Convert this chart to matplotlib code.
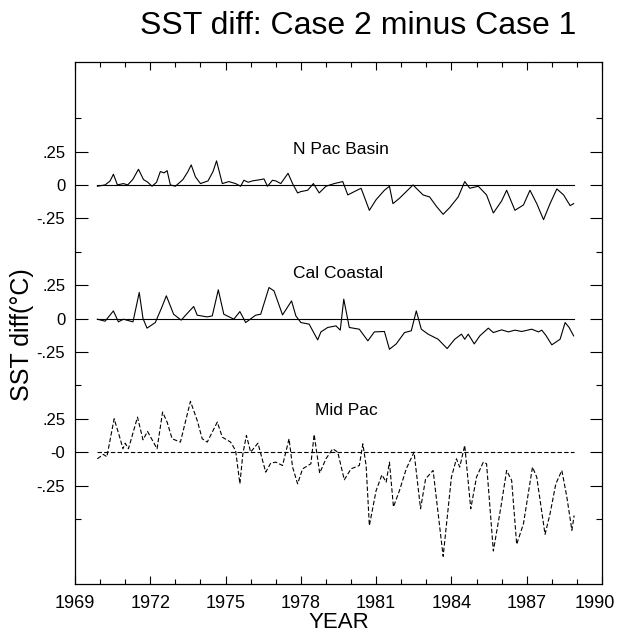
import numpy as np
import matplotlib
matplotlib.use("Agg")
import matplotlib.pyplot as plt
import matplotlib.transforms as mtransforms

plt.rcParams['font.family'] = ['Liberation Sans', 'DejaVu Sans']

# N Pac Basin (year, deg C)
npac_t = [1969.89, 1970.2, 1970.4, 1970.53, 1970.69, 1970.93, 1971.1, 1971.3, 1971.53, 1971.73,
          1971.9, 1972.07, 1972.25, 1972.4, 1972.55, 1972.67, 1972.8, 1973.0, 1973.3, 1973.5,
          1973.63, 1973.8, 1974.0, 1974.3, 1974.5, 1974.64, 1974.87, 1975.13, 1975.4, 1975.6,
          1975.73, 1975.9, 1976.07, 1976.4, 1976.53, 1976.67, 1976.87, 1977.0, 1977.2, 1977.49,
          1977.67, 1977.87, 1978.0, 1978.27, 1978.5, 1978.73, 1979.0, 1979.33, 1979.67, 1979.87,
          1980.13, 1980.4, 1980.73, 1981.0, 1981.33, 1981.53, 1981.67, 1981.93, 1982.2, 1982.47,
          1982.6, 1982.87, 1983.13, 1983.4, 1983.67, 1983.93, 1984.27, 1984.53, 1984.73, 1985.07,
          1985.4, 1985.67, 1986.0, 1986.2, 1986.53, 1986.87, 1987.13, 1987.4, 1987.67, 1987.93,
          1988.2, 1988.47, 1988.73, 1988.87]
npac_v = [-0.01, 0.0, 0.03, 0.08, 0.0, 0.01, 0.0, 0.04, 0.117, 0.04,
          0.02, -0.01, 0.02, 0.10, 0.09, 0.107, 0.0, -0.01, 0.04, 0.10,
          0.15, 0.06, 0.01, 0.03, 0.10, 0.18, 0.01, 0.025, 0.01, -0.01,
          0.035, 0.02, 0.03, 0.04, 0.045, -0.01, 0.035, 0.03, 0.01, 0.087,
          0.01, -0.06, -0.05, -0.04, 0.01, -0.06, -0.01, 0.01, 0.025, -0.075,
          -0.05, -0.025, -0.19, -0.11, -0.04, -0.01, -0.14, -0.10, -0.05, 0.0,
          -0.025, -0.075, -0.09, -0.16, -0.22, -0.17, -0.09, 0.025, -0.025, -0.01,
          -0.075, -0.21, -0.12, -0.04, -0.19, -0.15, -0.04, -0.14, -0.26, -0.14,
          -0.03, -0.075, -0.155, -0.14]

# Cal Coastal
cal_t = [1969.89, 1970.2, 1970.53, 1970.73, 1970.93, 1971.31, 1971.56, 1971.71, 1971.87, 1972.2,
         1972.45, 1972.64, 1972.93, 1973.23, 1973.53, 1973.73, 1973.87, 1974.27, 1974.47, 1974.71,
         1974.93, 1975.33, 1975.57, 1975.8, 1976.2, 1976.4, 1976.73, 1976.93, 1977.27, 1977.63,
         1977.8, 1978.0, 1978.33, 1978.67, 1978.8, 1979.07, 1979.4, 1979.57, 1979.71, 1979.93,
         1980.33, 1980.67, 1980.93, 1981.33, 1981.53, 1981.8, 1982.13, 1982.4, 1982.6, 1982.8,
         1983.07, 1983.47, 1983.83, 1984.13, 1984.4, 1984.53, 1984.67, 1984.91, 1985.13, 1985.47,
         1985.67, 1986.0, 1986.27, 1986.53, 1986.8, 1987.2, 1987.47, 1987.6, 1987.76, 1988.0,
         1988.33, 1988.53, 1988.69, 1988.87]
cal_v = [-0.005, -0.02, 0.057, -0.025, -0.005, -0.025, 0.195, 0.0, -0.072, -0.03,
         0.08, 0.17, 0.032, -0.012, 0.05, 0.09, 0.025, 0.012, 0.02, 0.215,
         0.032, -0.005, 0.052, -0.03, 0.025, 0.032, 0.232, 0.207, 0.027, 0.132,
         0.02, -0.03, -0.042, -0.16, -0.1, -0.067, -0.055, -0.087, 0.145, -0.067,
         -0.08, -0.167, -0.1, -0.097, -0.23, -0.19, -0.105, -0.092, 0.057, -0.08,
         -0.117, -0.155, -0.225, -0.155, -0.117, -0.155, -0.117, -0.19, -0.13, -0.072,
         -0.105, -0.085, -0.1, -0.087, -0.097, -0.08, -0.1, -0.087, -0.125, -0.197,
         -0.155, -0.03, -0.067, -0.13]

# Mid Pac
mid_t = [1969.89, 1970.13, 1970.27, 1970.56, 1970.8, 1970.91, 1971.0, 1971.13, 1971.49, 1971.71,
         1971.89, 1972.27, 1972.49, 1972.67, 1972.87, 1973.2, 1973.6, 1973.87, 1974.07, 1974.27,
         1974.67, 1974.87, 1975.2, 1975.4, 1975.57, 1975.69, 1975.83, 1976.0, 1976.29, 1976.6,
         1976.8, 1977.0, 1977.27, 1977.53, 1977.67, 1977.87, 1978.07, 1978.4, 1978.53, 1978.75,
         1979.0, 1979.27, 1979.47, 1979.73, 1980.0, 1980.33, 1980.47, 1980.6, 1980.73, 1981.0,
         1981.23, 1981.4, 1981.53, 1981.69, 1981.93, 1982.2, 1982.51, 1982.77, 1982.97, 1983.27,
         1983.67, 1984.0, 1984.2, 1984.33, 1984.53, 1984.77, 1985.0, 1985.27, 1985.4, 1985.67,
         1985.97, 1986.2, 1986.4, 1986.6, 1986.87, 1987.23, 1987.4, 1987.73, 1987.93, 1988.16,
         1988.4, 1988.6, 1988.8, 1988.89]
mid_v = [-0.05, -0.017, -0.035, 0.25, 0.1, 0.025, 0.067, 0.025, 0.262, 0.092,
         0.155, 0.025, 0.3, 0.225, 0.1, 0.075, 0.38, 0.237, 0.1, 0.075,
         0.225, 0.112, 0.075, 0.012, -0.237, -0.012, 0.125, 0.0, 0.067, -0.15,
         -0.082, -0.075, -0.1, 0.1, -0.112, -0.237, -0.125, -0.087, 0.132, -0.157,
         -0.05, 0.025, 0.0, -0.207, -0.125, -0.1, 0.062, -0.1, -0.55, -0.287,
         -0.17, -0.225, -0.075, -0.41, -0.287, -0.125, 0.0, -0.424, -0.2, -0.137,
         -0.78, -0.187, -0.05, -0.112, 0.05, -0.424, -0.187, -0.075, -0.087, -0.74,
         -0.412, -0.137, -0.212, -0.69, -0.536, -0.112, -0.187, -0.615, -0.461, -0.237,
         -0.137, -0.337, -0.585, -0.474]

names = ["N Pac Basin", "Cal Coastal", "Mid Pac"]
offsets = [0.0, -1.0, -2.0]
ytick_labels = [".25", "0", "-.25", ".25", "0", "-.25", ".25", "-0", "-.25"]

fig = plt.figure(figsize=(6.17, 6.38), dpi=100)
ax = fig.add_axes([75 / 617, 1 - 584 / 638, 527 / 617, 522 / 638])

t0, t1 = npac_t[0], npac_t[-1]
ax.plot(npac_t, np.array(npac_v) + offsets[0], color="black", lw=0.8)
ax.plot([t0, t1], [offsets[0], offsets[0]], color="black", lw=0.8)
ax.plot(cal_t, np.array(cal_v) + offsets[1], color="black", lw=0.8)
ax.plot([t0, t1], [offsets[1], offsets[1]], color="black", lw=0.8)
ax.plot(mid_t, np.array(mid_v) + offsets[2], color="black", lw=0.8, dashes=(4, 2))
ax.plot([t0, t1], [offsets[2], offsets[2]], color="black", lw=0.8, dashes=(4, 2))

ax.text(1979.6, 0.23, names[0], ha="center", va="baseline", fontsize=12.5)
ax.text(1979.5, -0.695, names[1], ha="center", va="baseline", fontsize=12.5)
ax.text(1979.8, -1.725, names[2], ha="center", va="baseline", fontsize=12.5)

ax.set_xlim(1969, 1990)
ax.set_ylim(-2.987, 0.92)

ax.set_xticks(np.arange(1969, 1991, 3))
ax.set_xticks(np.arange(1969, 1991, 1), minor=True)
ax.set_xticklabels([str(y) for y in range(1969, 1991, 3)], fontsize=13)

major_y = []
for off in offsets:
    major_y += [off + 0.25, off, off - 0.25]
ax.set_yticks(major_y)
ax.set_yticklabels(ytick_labels, fontsize=12)
ax.set_yticks([0.5, -0.5, -1.5, -2.5], minor=True)

ax.tick_params(which="both", direction="in", top=True, right=True, width=0.8)
ax.tick_params(axis="y", which="major", length=9, pad=7)
ax.tick_params(axis="y", which="minor", length=4)
ax.tick_params(axis="x", which="major", length=6, pad=8)
ax.tick_params(axis="x", which="minor", length=3.5)
for s in ax.spines.values():
    s.set_linewidth(0.9)

# keep the 1990 label inside the picture
last = ax.get_xticklabels()[-1]
last.set_transform(last.get_transform() + mtransforms.ScaledTranslation(-0.07, 0, fig.dpi_scale_trans))

fig.text(358 / 617, 1 - 26 / 638, "SST diff: Case 2 minus Case 1", ha="center", va="center", fontsize=23)
fig.text(339 / 617, 1 - 622 / 638, "YEAR", ha="center", va="center", fontsize=16)
fig.text(22 / 617, 1 - 335 / 638, "SST diff(°C)", ha="center", va="center", rotation=90, fontsize=18)

fig.savefig("out.png", dpi=100)
